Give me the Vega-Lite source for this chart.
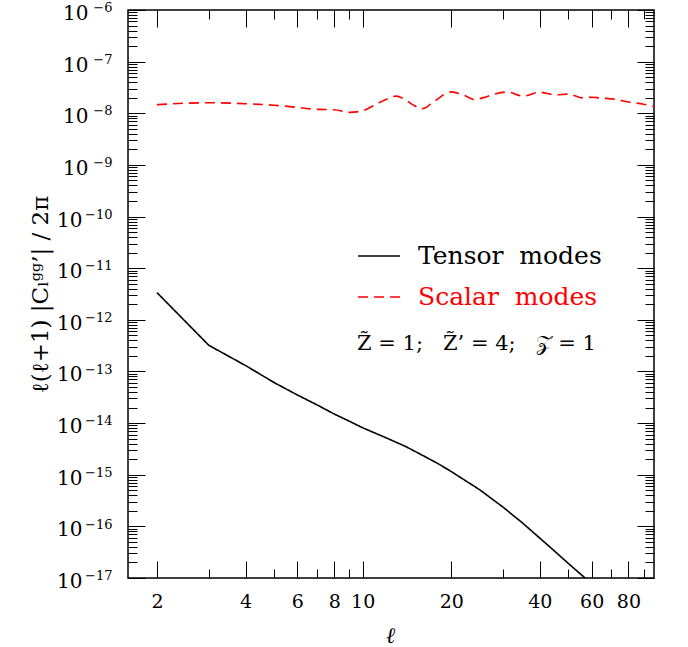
{
  "$schema": "https://vega.github.io/schema/vega-lite/v6.json",
  "width": 526,
  "height": 568,
  "autosize": "none",
  "padding": {"left": 128, "top": 10, "right": 34, "bottom": 69},
  "background": "white",
  "config": {
    "view": {"stroke": "black", "strokeWidth": 1.5},
    "axis": {"grid": false, "domain": false, "tickColor": "black", "tickWidth": 1, "labelColor": "black", "labelOverlap": false, "labelFlush": false, "labelBound": false, "titleColor": "black"},
    "legend": {"orient": "none", "legendX": 229, "legendY": 224, "padding": 0, "titleOrient": "bottom", "titleAnchor": "start", "titleFont": "DejaVu Serif", "titleFontSize": 21, "titleFontWeight": "normal", "titleColor": "black", "titlePadding": 23, "titleLimit": 0,
      "labelFont": "DejaVu Serif", "labelFontSize": 25, "labelOffset": 17, "labelLimit": 0, "symbolType": "stroke", "symbolSize": 1764, "symbolStrokeWidth": 1.6, "rowPadding": 6}
  },
  "data": {
    "values": [
      {"l": 2, "v": 3.36e-12, "series": "Tensor modes"},
      {"l": 3, "v": 3.21e-13, "series": "Tensor modes"},
      {"l": 4, "v": 1.3e-13, "series": "Tensor modes"},
      {"l": 5, "v": 6.1e-14, "series": "Tensor modes"},
      {"l": 6, "v": 3.5e-14, "series": "Tensor modes"},
      {"l": 7, "v": 2.25e-14, "series": "Tensor modes"},
      {"l": 8, "v": 1.5e-14, "series": "Tensor modes"},
      {"l": 9, "v": 1.09e-14, "series": "Tensor modes"},
      {"l": 10, "v": 8.1e-15, "series": "Tensor modes"},
      {"l": 12, "v": 5.2e-15, "series": "Tensor modes"},
      {"l": 14, "v": 3.52e-15, "series": "Tensor modes"},
      {"l": 16, "v": 2.36e-15, "series": "Tensor modes"},
      {"l": 18, "v": 1.65e-15, "series": "Tensor modes"},
      {"l": 20, "v": 1.15e-15, "series": "Tensor modes"},
      {"l": 25, "v": 5.1e-16, "series": "Tensor modes"},
      {"l": 30, "v": 2.35e-16, "series": "Tensor modes"},
      {"l": 35, "v": 1.15e-16, "series": "Tensor modes"},
      {"l": 40, "v": 5.9e-17, "series": "Tensor modes"},
      {"l": 45, "v": 3.27e-17, "series": "Tensor modes"},
      {"l": 50, "v": 1.91e-17, "series": "Tensor modes"},
      {"l": 55, "v": 1.19e-17, "series": "Tensor modes"},
      {"l": 60, "v": 7.8e-18, "series": "Tensor modes"},
      {"l": 2, "v": 1.47e-8, "series": "Scalar modes"},
      {"l": 3, "v": 1.6e-8, "series": "Scalar modes"},
      {"l": 4, "v": 1.53e-8, "series": "Scalar modes"},
      {"l": 5, "v": 1.43e-8, "series": "Scalar modes"},
      {"l": 6, "v": 1.3e-8, "series": "Scalar modes"},
      {"l": 7, "v": 1.19e-8, "series": "Scalar modes"},
      {"l": 8, "v": 1.17e-8, "series": "Scalar modes"},
      {"l": 9, "v": 1.04e-8, "series": "Scalar modes"},
      {"l": 10, "v": 1.12e-8, "series": "Scalar modes"},
      {"l": 11, "v": 1.45e-8, "series": "Scalar modes"},
      {"l": 12, "v": 1.85e-8, "series": "Scalar modes"},
      {"l": 13, "v": 2.15e-8, "series": "Scalar modes"},
      {"l": 14, "v": 1.8e-8, "series": "Scalar modes"},
      {"l": 15, "v": 1.4e-8, "series": "Scalar modes"},
      {"l": 16, "v": 1.23e-8, "series": "Scalar modes"},
      {"l": 17, "v": 1.5e-8, "series": "Scalar modes"},
      {"l": 18, "v": 1.9e-8, "series": "Scalar modes"},
      {"l": 19, "v": 2.35e-8, "series": "Scalar modes"},
      {"l": 20, "v": 2.6e-8, "series": "Scalar modes"},
      {"l": 22, "v": 2.25e-8, "series": "Scalar modes"},
      {"l": 24, "v": 1.85e-8, "series": "Scalar modes"},
      {"l": 26, "v": 2.05e-8, "series": "Scalar modes"},
      {"l": 28, "v": 2.35e-8, "series": "Scalar modes"},
      {"l": 31, "v": 2.58e-8, "series": "Scalar modes"},
      {"l": 35, "v": 2.15e-8, "series": "Scalar modes"},
      {"l": 40, "v": 2.55e-8, "series": "Scalar modes"},
      {"l": 45, "v": 2.28e-8, "series": "Scalar modes"},
      {"l": 50, "v": 2.35e-8, "series": "Scalar modes"},
      {"l": 56, "v": 1.98e-8, "series": "Scalar modes"},
      {"l": 60, "v": 2.05e-8, "series": "Scalar modes"},
      {"l": 64, "v": 1.98e-8, "series": "Scalar modes"},
      {"l": 72, "v": 1.87e-8, "series": "Scalar modes"},
      {"l": 80, "v": 1.65e-8, "series": "Scalar modes"},
      {"l": 90, "v": 1.5e-8, "series": "Scalar modes"},
      {"l": 98, "v": 1.35e-8, "series": "Scalar modes"}
    ]
  },
  "layer": [
    {
      "transform": [{"filter": "datum.series === 'Tensor modes'"}],
      "mark": {"type": "line", "clip": true, "strokeWidth": 1.6},
      "encoding": {
        "x": {"field": "l", "type": "quantitative", "scale": {"type": "log", "domain": [1.594, 97.7]},
          "axis": {"orient": "bottom", "values": [2, 4, 6, 8, 10, 20, 40, 60, 80], "format": "d", "ticks": false, "labelFont": "DejaVu Serif", "labelFontSize": 19, "labelBaseline": "alphabetic", "labelPadding": 29,
            "title": "ℓ", "titleFont": "DejaVu Serif", "titleFontStyle": "italic", "titleFontWeight": "normal", "titleFontSize": 22, "titleX": 262, "titleY": 64, "titleBaseline": "alphabetic", "titleAlign": "center"}},
        "y": {"field": "v", "type": "quantitative", "scale": {"type": "log", "domain": [1e-17, 1e-6]},
          "axis": {"orient": "left", "values": [1e-17, 1e-16, 1e-15, 1e-14, 1e-13, 1e-12, 1e-11, 1e-10, 1e-9, 1e-8, 1e-7, 1e-6], "labels": false, "tickSize": -17,
            "title": "ℓ(ℓ+1) |Cₗᵍᵍ’| / 2π", "titleFont": "DejaVu Serif", "titleFontWeight": "normal", "titleFontSize": 23, "titleX": -88, "titleY": 284, "titleAngle": -90, "titleAlign": "center", "titleBaseline": "middle", "titleLimit": 0}},
        "color": {"field": "series", "type": "nominal", "scale": {"domain": ["Tensor modes", "Scalar modes"], "range": ["#000000", "#ff0000"]},
          "legend": {"title": "Z̃ = 1;\u00a0\u00a0 Z̃’ = 4;\u00a0\u00a0 𝒵 = 1", "labelExpr": "replace(datum.label, ' ', '\u00a0\u00a0')",
            "encode": {"labels": {"update": {"fill": {"signal": "datum.value === 'Scalar modes' ? '#ff0000' : '#000000'"}}}}}},
        "strokeDash": {"field": "series", "type": "nominal", "scale": {"domain": ["Tensor modes", "Scalar modes"], "range": [[1, 0], [10, 6]]},
          "legend": {"title": "Z̃ = 1;\u00a0\u00a0 Z̃’ = 4;\u00a0\u00a0 𝒵 = 1", "labelExpr": "replace(datum.label, ' ', '\u00a0\u00a0')",
            "encode": {"labels": {"update": {"fill": {"signal": "datum.value === 'Scalar modes' ? '#ff0000' : '#000000'"}}}}}}
      }
    },
    {
      "transform": [{"filter": "datum.series === 'Scalar modes'"}],
      "mark": {"type": "line", "clip": true, "strokeWidth": 1.6, "interpolate": "monotone"},
      "encoding": {
        "x": {"field": "l", "type": "quantitative", "scale": {"type": "log", "domain": [1.594, 97.7]},
          "axis": {"orient": "bottom", "values": [2, 4, 6, 8, 10, 20, 40, 60, 80], "labels": false, "tickSize": -17, "title": null}},
        "y": {"field": "v", "type": "quantitative", "scale": {"type": "log", "domain": [1e-17, 1e-6]},
          "axis": {"orient": "left", "values": [2e-17,3e-17,4e-17,5e-17,6e-17,7e-17,8e-17,9e-17,2e-16,3e-16,4e-16,5e-16,6e-16,7e-16,8e-16,9e-16,2e-15,3e-15,4e-15,5e-15,6e-15,7e-15,8e-15,9e-15,2e-14,3e-14,4e-14,5e-14,6e-14,7e-14,8e-14,9e-14,2e-13,3e-13,4e-13,5e-13,6e-13,7e-13,8e-13,9e-13,2e-12,3e-12,4e-12,5e-12,6e-12,7e-12,8e-12,9e-12,2e-11,3e-11,4e-11,5e-11,6e-11,7e-11,8e-11,9e-11,2e-10,3e-10,4e-10,5e-10,6e-10,7e-10,8e-10,9e-10,2e-9,3e-9,4e-9,5e-9,6e-9,7e-9,8e-9,9e-9,2e-8,3e-8,4e-8,5e-8,6e-8,7e-8,8e-8,9e-8,2e-7,3e-7,4e-7,5e-7,6e-7,7e-7,8e-7,9e-7], "labels": false, "tickSize": -9, "title": null}},
        "color": {"field": "series", "type": "nominal", "scale": {"domain": ["Tensor modes", "Scalar modes"], "range": ["#000000", "#ff0000"]},
          "legend": {"title": "Z̃ = 1;\u00a0\u00a0 Z̃’ = 4;\u00a0\u00a0 𝒵 = 1", "labelExpr": "replace(datum.label, ' ', '\u00a0\u00a0')",
            "encode": {"labels": {"update": {"fill": {"signal": "datum.value === 'Scalar modes' ? '#ff0000' : '#000000'"}}}}}},
        "strokeDash": {"field": "series", "type": "nominal", "scale": {"domain": ["Tensor modes", "Scalar modes"], "range": [[1, 0], [10, 6]]},
          "legend": {"title": "Z̃ = 1;\u00a0\u00a0 Z̃’ = 4;\u00a0\u00a0 𝒵 = 1", "labelExpr": "replace(datum.label, ' ', '\u00a0\u00a0')",
            "encode": {"labels": {"update": {"fill": {"signal": "datum.value === 'Scalar modes' ? '#ff0000' : '#000000'"}}}}}}
      }
    },
    {
      "mark": {"type": "point", "opacity": 0},
      "encoding": {
        "x": {"field": "l", "type": "quantitative", "scale": {"type": "log", "domain": [1.594, 97.7]},
          "axis": {"orient": "bottom", "values": [3, 5, 7, 9, 30, 50, 70, 90], "labels": false, "tickSize": -9, "title": null}},
        "y": {"field": "v", "type": "quantitative", "scale": {"type": "log", "domain": [1e-17, 1e-6]},
          "axis": {"orient": "right", "values": [1e-17, 1e-16, 1e-15, 1e-14, 1e-13, 1e-12, 1e-11, 1e-10, 1e-9, 1e-8, 1e-7, 1e-6], "labels": false, "tickSize": -17, "title": null}}
      }
    },
    {
      "mark": {"type": "point", "opacity": 0},
      "encoding": {
        "x": {"field": "l", "type": "quantitative", "scale": {"type": "log", "domain": [1.594, 97.7]},
          "axis": {"orient": "top", "values": [2, 4, 6, 8, 10, 20, 40, 60, 80], "labels": false, "tickSize": -17, "title": null}},
        "y": {"field": "v", "type": "quantitative", "scale": {"type": "log", "domain": [1e-17, 1e-6]},
          "axis": {"orient": "right", "values": [2e-17,3e-17,4e-17,5e-17,6e-17,7e-17,8e-17,9e-17,2e-16,3e-16,4e-16,5e-16,6e-16,7e-16,8e-16,9e-16,2e-15,3e-15,4e-15,5e-15,6e-15,7e-15,8e-15,9e-15,2e-14,3e-14,4e-14,5e-14,6e-14,7e-14,8e-14,9e-14,2e-13,3e-13,4e-13,5e-13,6e-13,7e-13,8e-13,9e-13,2e-12,3e-12,4e-12,5e-12,6e-12,7e-12,8e-12,9e-12,2e-11,3e-11,4e-11,5e-11,6e-11,7e-11,8e-11,9e-11,2e-10,3e-10,4e-10,5e-10,6e-10,7e-10,8e-10,9e-10,2e-9,3e-9,4e-9,5e-9,6e-9,7e-9,8e-9,9e-9,2e-8,3e-8,4e-8,5e-8,6e-8,7e-8,8e-8,9e-8,2e-7,3e-7,4e-7,5e-7,6e-7,7e-7,8e-7,9e-7], "labels": false, "tickSize": -9, "title": null}}
      }
    },
    {
      "mark": {"type": "point", "opacity": 0},
      "encoding": {
        "x": {"field": "l", "type": "quantitative", "scale": {"type": "log", "domain": [1.594, 97.7]},
          "axis": {"orient": "top", "values": [3, 5, 7, 9, 30, 50, 70, 90], "labels": false, "tickSize": -9, "title": null}},
        "y": {"field": "v", "type": "quantitative", "scale": {"type": "log", "domain": [1e-17, 1e-6]},
          "axis": {"orient": "left", "values": [1e-9, 1e-8, 1e-7, 1e-6], "ticks": false, "labelExpr": "'10'", "labelFont": "DejaVu Serif", "labelFontSize": 20, "labelAlign": "right", "labelBaseline": "alphabetic", "labelPadding": 40, "labelOffset": 9.5, "title": null}}
      }
    },
    {
      "mark": {"type": "point", "opacity": 0},
      "encoding": {
        "x": {"field": "l", "type": "quantitative", "scale": {"type": "log", "domain": [1.594, 97.7]}, "axis": null},
        "y": {"field": "v", "type": "quantitative", "scale": {"type": "log", "domain": [1e-17, 1e-6]},
          "axis": {"orient": "left", "values": [1e-17, 1e-16, 1e-15, 1e-14, 1e-13, 1e-12, 1e-11, 1e-10], "ticks": false, "labelExpr": "'10'", "labelFont": "DejaVu Serif", "labelFontSize": 20, "labelAlign": "right", "labelBaseline": "alphabetic", "labelPadding": 46, "labelOffset": 9.5, "title": null}}
      }
    },
    {
      "mark": {"type": "point", "opacity": 0},
      "encoding": {
        "x": {"field": "l", "type": "quantitative", "scale": {"type": "log", "domain": [1.594, 97.7]}, "axis": null},
        "y": {"field": "v", "type": "quantitative", "scale": {"type": "log", "domain": [1e-17, 1e-6]},
          "axis": {"orient": "left", "values": [1e-17, 1e-16, 1e-15, 1e-14, 1e-13, 1e-12, 1e-11, 1e-10, 1e-9, 1e-8, 1e-7, 1e-6], "ticks": false, "labelExpr": "'−' + format(-round(log(datum.value)/LN10), 'd')", "labelFont": "DejaVu Serif", "labelFontSize": 13, "labelAlign": "right", "labelBaseline": "alphabetic", "labelPadding": 16, "labelOffset": 1.7, "title": null}}
      }
    }
  ],
  "resolve": {"axis": {"x": "independent", "y": "independent"}}
}
